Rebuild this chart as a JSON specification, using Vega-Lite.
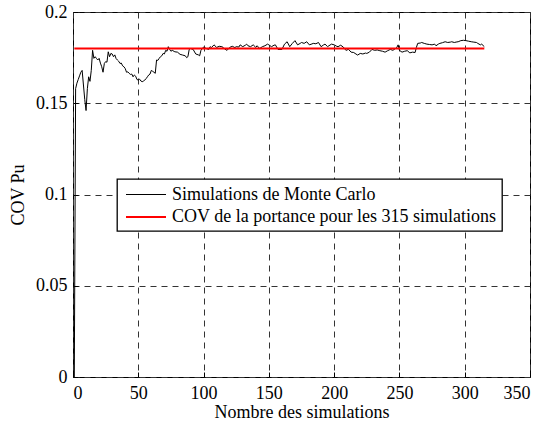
{
  "$schema": "https://vega.github.io/schema/vega-lite/v6.json",
  "width": 457,
  "height": 365,
  "autosize": {"type": "none"},
  "padding": {"left": 73, "top": 12, "right": 17, "bottom": 46},
  "background": "white",
  "config": {
    "font": "Times New Roman, Liberation Serif, serif",
    "style": {
      "guide-label": {"font": "Times New Roman, Liberation Serif, serif", "fontSize": 18, "fill": "black"},
      "guide-title": {"font": "Times New Roman, Liberation Serif, serif", "fontSize": 18, "fill": "black"}
    },
    "view": {"stroke": "black", "strokeWidth": 1},
    "axis": {
      "labelFont": "Times New Roman, Liberation Serif, serif",
      "titleFont": "Times New Roman, Liberation Serif, serif",
      "labelFontSize": 18,
      "titleFontSize": 18,
      "titleFontWeight": "normal",
      "labelFontWeight": "normal",
      "labelColor": "black",
      "titleColor": "black",
      "domain": false,
      "tickColor": "black",
      "tickSize": -5,
      "grid": true,
      "gridColor": "#333333",
      "gridDash": [6, 5],
      "gridWidth": 1,
      "gridOpacity": 1
    },
    "legend": {
      "orient": "none",
      "legendX": 44,
      "legendY": 167,
      "strokeColor": "black",
      "strokeWidth": 1.3,
      "fillColor": "white",
      "padding": 5,
      "labelFont": "Times New Roman, Liberation Serif, serif",
      "labelFontSize": 18,
      "labelColor": "black",
      "symbolType": "M-2,0H2",
      "symbolSize": 400,
      "symbolOffset": 13,
      "labelOffset": 15,
      "rowPadding": 2,
      "labelLimit": 400
    }
  },
  "datasets": {
    "mc": [
      {"n": 1, "cov": 0}, {"n": 2, "cov": 0.158}, {"n": 3, "cov": 0.161}, {"n": 4, "cov": 0.163}, {"n": 5, "cov": 0.165},
      {"n": 6, "cov": 0.167}, {"n": 7, "cov": 0.168}, {"n": 8, "cov": 0.16}, {"n": 9, "cov": 0.152}, {"n": 10, "cov": 0.146},
      {"n": 11, "cov": 0.158}, {"n": 12, "cov": 0.1645}, {"n": 13, "cov": 0.162}, {"n": 14, "cov": 0.168}, {"n": 15, "cov": 0.179},
      {"n": 16, "cov": 0.1746}, {"n": 17, "cov": 0.1755}, {"n": 18, "cov": 0.1745}, {"n": 19, "cov": 0.1737}, {"n": 20, "cov": 0.1746},
      {"n": 21, "cov": 0.172}, {"n": 22, "cov": 0.17}, {"n": 23, "cov": 0.167}, {"n": 24, "cov": 0.1718}, {"n": 25, "cov": 0.1728},
      {"n": 26, "cov": 0.1725}, {"n": 27, "cov": 0.1782}, {"n": 28, "cov": 0.1755}, {"n": 29, "cov": 0.1773}, {"n": 30, "cov": 0.177},
      {"n": 31, "cov": 0.1755}, {"n": 32, "cov": 0.1765}, {"n": 33, "cov": 0.1745}, {"n": 34, "cov": 0.1737}, {"n": 35, "cov": 0.173},
      {"n": 36, "cov": 0.1718}, {"n": 37, "cov": 0.172}, {"n": 38, "cov": 0.1705}, {"n": 39, "cov": 0.17}, {"n": 40, "cov": 0.169},
      {"n": 41, "cov": 0.167}, {"n": 42, "cov": 0.1672}, {"n": 43, "cov": 0.1664}, {"n": 44, "cov": 0.1658}, {"n": 45, "cov": 0.166},
      {"n": 46, "cov": 0.1645}, {"n": 47, "cov": 0.1655}, {"n": 48, "cov": 0.1648}, {"n": 49, "cov": 0.163}, {"n": 50, "cov": 0.1627},
      {"n": 51, "cov": 0.1632}, {"n": 52, "cov": 0.1622}, {"n": 53, "cov": 0.1618}, {"n": 54, "cov": 0.1622}, {"n": 55, "cov": 0.1627},
      {"n": 56, "cov": 0.1635}, {"n": 57, "cov": 0.1645}, {"n": 58, "cov": 0.1655}, {"n": 59, "cov": 0.166}, {"n": 60, "cov": 0.168},
      {"n": 61, "cov": 0.1675}, {"n": 62, "cov": 0.167}, {"n": 63, "cov": 0.1664}, {"n": 64, "cov": 0.1737}, {"n": 65, "cov": 0.1735},
      {"n": 66, "cov": 0.1746}, {"n": 67, "cov": 0.1755}, {"n": 68, "cov": 0.176}, {"n": 69, "cov": 0.1773}, {"n": 70, "cov": 0.177},
      {"n": 71, "cov": 0.179}, {"n": 72, "cov": 0.1785}, {"n": 73, "cov": 0.181}, {"n": 74, "cov": 0.1795}, {"n": 75, "cov": 0.1785},
      {"n": 76, "cov": 0.179}, {"n": 78, "cov": 0.1782}, {"n": 80, "cov": 0.178}, {"n": 82, "cov": 0.1768}, {"n": 84, "cov": 0.1764},
      {"n": 86, "cov": 0.176}, {"n": 87, "cov": 0.175}, {"n": 88, "cov": 0.1755}, {"n": 89, "cov": 0.1795}, {"n": 90, "cov": 0.18},
      {"n": 92, "cov": 0.1795}, {"n": 94, "cov": 0.177}, {"n": 96, "cov": 0.1765}, {"n": 97, "cov": 0.176}, {"n": 98, "cov": 0.179},
      {"n": 100, "cov": 0.1808}, {"n": 102, "cov": 0.18}, {"n": 104, "cov": 0.1795}, {"n": 105, "cov": 0.181}, {"n": 106, "cov": 0.1805},
      {"n": 108, "cov": 0.182}, {"n": 110, "cov": 0.1806}, {"n": 112, "cov": 0.1812}, {"n": 114, "cov": 0.181}, {"n": 115, "cov": 0.1806},
      {"n": 116, "cov": 0.1798}, {"n": 118, "cov": 0.179}, {"n": 120, "cov": 0.1806}, {"n": 122, "cov": 0.1812}, {"n": 124, "cov": 0.1805},
      {"n": 125, "cov": 0.181}, {"n": 127, "cov": 0.1808}, {"n": 128, "cov": 0.182}, {"n": 130, "cov": 0.181}, {"n": 132, "cov": 0.1818},
      {"n": 133, "cov": 0.1824}, {"n": 134, "cov": 0.1815}, {"n": 136, "cov": 0.181}, {"n": 138, "cov": 0.182}, {"n": 140, "cov": 0.1806},
      {"n": 141, "cov": 0.1815}, {"n": 143, "cov": 0.18}, {"n": 145, "cov": 0.181}, {"n": 147, "cov": 0.1815}, {"n": 149, "cov": 0.1824},
      {"n": 150, "cov": 0.182}, {"n": 152, "cov": 0.181}, {"n": 154, "cov": 0.1818}, {"n": 155, "cov": 0.182}, {"n": 157, "cov": 0.1795},
      {"n": 160, "cov": 0.1795}, {"n": 162, "cov": 0.1824}, {"n": 164, "cov": 0.1837}, {"n": 166, "cov": 0.181}, {"n": 168, "cov": 0.1828},
      {"n": 170, "cov": 0.1843}, {"n": 172, "cov": 0.182}, {"n": 174, "cov": 0.1828}, {"n": 175, "cov": 0.1833}, {"n": 177, "cov": 0.1828},
      {"n": 179, "cov": 0.1837}, {"n": 181, "cov": 0.182}, {"n": 183, "cov": 0.1825}, {"n": 184, "cov": 0.1828}, {"n": 186, "cov": 0.1826},
      {"n": 188, "cov": 0.1833}, {"n": 190, "cov": 0.181}, {"n": 192, "cov": 0.182}, {"n": 193, "cov": 0.1824}, {"n": 195, "cov": 0.181},
      {"n": 196, "cov": 0.1815}, {"n": 198, "cov": 0.1824}, {"n": 200, "cov": 0.182}, {"n": 202, "cov": 0.1812}, {"n": 203, "cov": 0.181},
      {"n": 205, "cov": 0.1818}, {"n": 207, "cov": 0.1808}, {"n": 209, "cov": 0.179}, {"n": 211, "cov": 0.1795}, {"n": 213, "cov": 0.178},
      {"n": 215, "cov": 0.1778}, {"n": 216, "cov": 0.1773}, {"n": 218, "cov": 0.1764}, {"n": 220, "cov": 0.1773}, {"n": 222, "cov": 0.177},
      {"n": 224, "cov": 0.1775}, {"n": 225, "cov": 0.1773}, {"n": 227, "cov": 0.178}, {"n": 229, "cov": 0.1795}, {"n": 231, "cov": 0.179},
      {"n": 233, "cov": 0.1792}, {"n": 235, "cov": 0.1788}, {"n": 237, "cov": 0.1785}, {"n": 239, "cov": 0.178}, {"n": 241, "cov": 0.1788},
      {"n": 243, "cov": 0.1795}, {"n": 245, "cov": 0.179}, {"n": 247, "cov": 0.18}, {"n": 248, "cov": 0.1806}, {"n": 249, "cov": 0.182},
      {"n": 250, "cov": 0.179}, {"n": 252, "cov": 0.178}, {"n": 254, "cov": 0.1785}, {"n": 256, "cov": 0.1788}, {"n": 258, "cov": 0.1776},
      {"n": 260, "cov": 0.178}, {"n": 262, "cov": 0.1778}, {"n": 263, "cov": 0.1806}, {"n": 264, "cov": 0.1828}, {"n": 266, "cov": 0.183},
      {"n": 267, "cov": 0.1833}, {"n": 269, "cov": 0.1828}, {"n": 271, "cov": 0.1824}, {"n": 273, "cov": 0.1822}, {"n": 275, "cov": 0.182},
      {"n": 277, "cov": 0.1824}, {"n": 278, "cov": 0.1815}, {"n": 280, "cov": 0.1825}, {"n": 281, "cov": 0.1828}, {"n": 283, "cov": 0.1832},
      {"n": 285, "cov": 0.1837}, {"n": 287, "cov": 0.1833}, {"n": 289, "cov": 0.1835}, {"n": 290, "cov": 0.1837}, {"n": 292, "cov": 0.1833},
      {"n": 294, "cov": 0.1836}, {"n": 295, "cov": 0.1837}, {"n": 297, "cov": 0.1843}, {"n": 299, "cov": 0.1845}, {"n": 301, "cov": 0.1843},
      {"n": 303, "cov": 0.184}, {"n": 305, "cov": 0.1837}, {"n": 307, "cov": 0.1835}, {"n": 309, "cov": 0.1833}, {"n": 310, "cov": 0.1828},
      {"n": 312, "cov": 0.182}, {"n": 313, "cov": 0.1824}, {"n": 315, "cov": 0.181}
    ],
    "ref": [
      {"n": 1, "cov": 0.18},
      {"n": 315, "cov": 0.18}
    ]
  },
  "layer": [
    {
      "data": {"name": "mc"},
      "mark": {"type": "line", "interpolate": "linear"},
      "encoding": {
        "x": {
          "field": "n", "type": "quantitative",
          "scale": {"domain": [0, 350], "nice": false, "zero": false},
          "axis": {"values": [0, 50, 100, 150, 200, 250, 300, 350], "title": "Nombre des simulations", "labelFont": "Times New Roman, Liberation Serif, serif", "labelFontSize": 18, "labelPadding": 12, "titlePadding": 1}
        },
        "y": {
          "field": "cov", "type": "quantitative",
          "scale": {"domain": [0, 0.2], "nice": false},
          "axis": {"values": [0, 0.05, 0.1, 0.15, 0.2], "format": "~g", "title": "COV Pu", "labelFont": "Times New Roman, Liberation Serif, serif", "labelFontSize": 18, "labelPadding": 11, "titlePadding": 8}
        },
        "color": {
          "datum": "Simulations de Monte Carlo", "type": "nominal",
          "scale": {"domain": ["Simulations de Monte Carlo", "COV de la portance pour les 315 simulations"], "range": ["black", "#ff0000"]},
          "legend": {"title": null}
        },
        "strokeWidth": {
          "datum": "Simulations de Monte Carlo", "type": "nominal",
          "scale": {"domain": ["Simulations de Monte Carlo", "COV de la portance pour les 315 simulations"], "range": [1, 2]},
          "legend": {"title": null}
        }
      }
    },
    {
      "data": {"name": "ref"},
      "mark": {"type": "line"},
      "encoding": {
        "x": {"field": "n", "type": "quantitative"},
        "y": {"field": "cov", "type": "quantitative"},
        "color": {"datum": "COV de la portance pour les 315 simulations", "type": "nominal"},
        "strokeWidth": {"datum": "COV de la portance pour les 315 simulations", "type": "nominal"}
      }
    }
  ]
}
